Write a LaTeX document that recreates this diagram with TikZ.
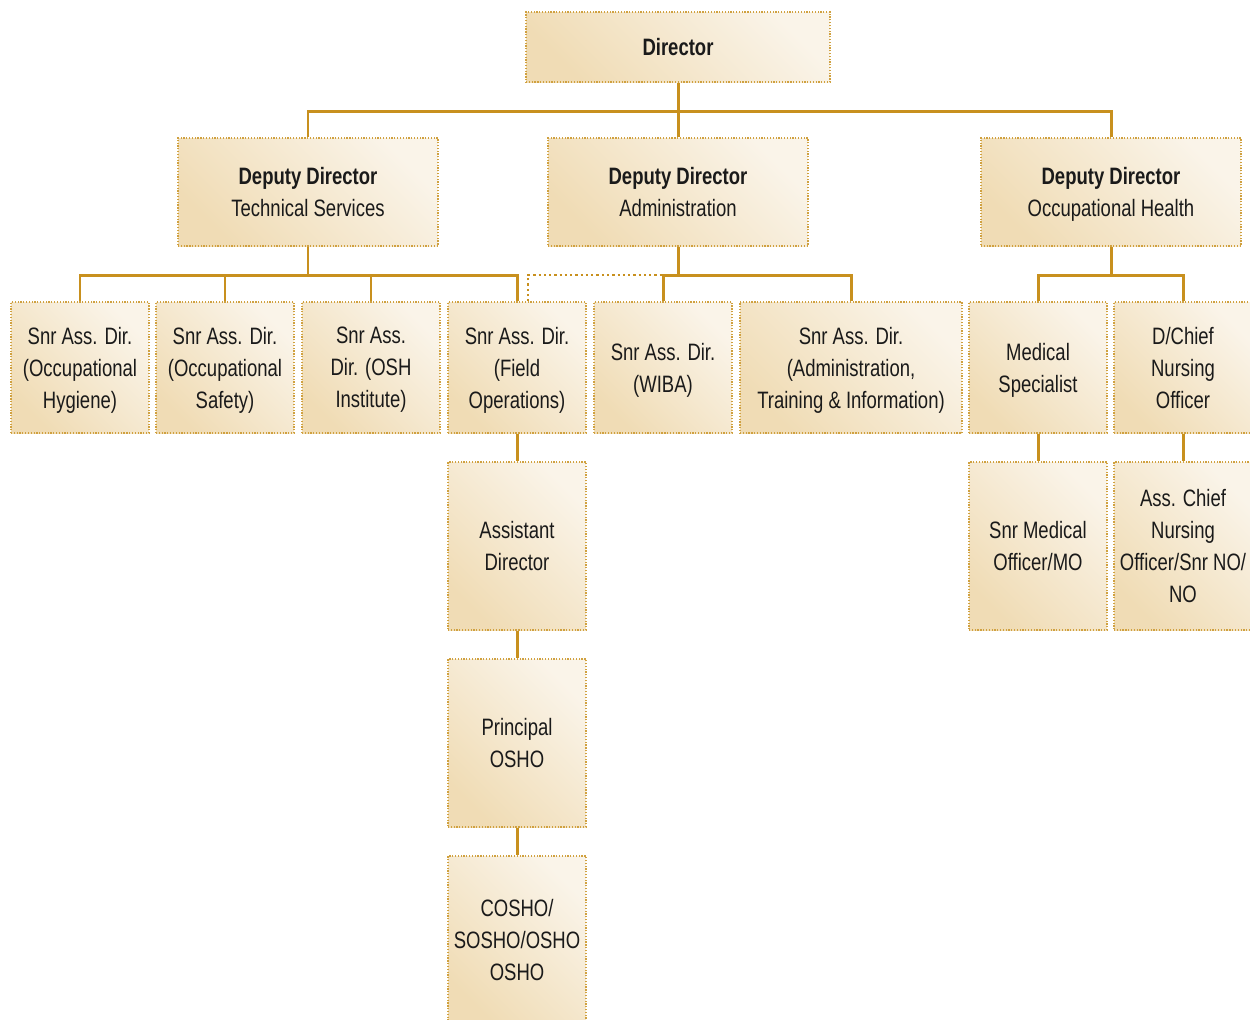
\documentclass[tikz,border=0pt]{standalone}
\usepackage{fontspec}
\setmainfont{Liberation Sans}[FakeStretch=0.78]
\usetikzlibrary{positioning}
\definecolor{gold}{HTML}{C8901E}
\definecolor{tanlight}{HTML}{FAF4E9}
\definecolor{tandark}{HTML}{F0DCB5}
\definecolor{ink}{HTML}{1A1A1A}

\begin{document}
\begin{tikzpicture}[x=0.02cm,y=-0.02cm,
 box/.style={draw=gold!85, line width=0.7pt, dash pattern=on 0.7pt off 0.9pt,
  top color=tanlight, bottom color=tandark, shading angle=-45,
  minimum width=2.76cm, minimum height=2.62cm, inner sep=1pt, align=center,
  text depth=-0.5pt, text=ink, font=\fontsize{13.5}{18.2}\selectfont},
 link/.style={gold, line width=1.7pt},
 dotlink/.style={gold, line width=1.3pt, dash pattern=on 1.3pt off 1.7pt}]
\useasboundingbox (0,0) rectangle (1250,1019);
\clip (0,0) rectangle (1250,1019);

% top levels
\node[box, minimum width=6.08cm, minimum height=1.4cm] (dir) at (678,47) {\textbf{Director}};
\node[box, minimum width=5.2cm, minimum height=2.16cm] (ddtech) at (308,192) {\textbf{Deputy Director}\\Technical Services};
\node[box, minimum width=5.2cm, minimum height=2.16cm] (ddadm) at (678,192) {\textbf{Deputy Director}\\Administration};
\node[box, minimum width=5.2cm, minimum height=2.16cm] (ddoh) at (1111,192) {\textbf{Deputy Director}\\Occupational Health};

% senior assistant directors
\foreach \n/\x/\t in {hyg/80/{Snr Ass. Dir.\\(Occupational\\Hygiene)},
  saf/225/{Snr Ass. Dir.\\(Occupational\\Safety)},
  osh/371/{Snr Ass.\\Dir. (OSH\\Institute)},
  fld/517/{Snr Ass. Dir.\\(Field\\Operations)},
  wiba/663/{Snr Ass. Dir.\\(WIBA)},
  med/1038/{Medical\\Specialist},
  dcn/1183/{D/Chief\\Nursing\\Officer}}
 \node[box] (\n) at (\x,367.5) {\t};
\node[box, minimum width=4.44cm] (ati) at (851,367.5) {Snr Ass. Dir.\\(Administration,\\Training \& Information)};

% lower levels
\node[box, minimum height=3.36cm] (asd) at (517,546) {Assistant\\Director};
\node[box, minimum height=3.36cm] (posho) at (517,743) {Principal\\OSHO};
\node[box, minimum height=3.36cm] (cosho) at (517,940) {COSHO/\\SOSHO/OSHO\\OSHO};
\node[box, minimum height=3.36cm] (smo) at (1038,546) {Snr Medical\\Officer/MO};
\node[box, minimum height=3.36cm] (acn) at (1183,546) {Ass. Chief\\Nursing\\Officer/Snr NO/\\NO};

% connectors
\coordinate (j1) at (678,111);
\coordinate (j2) at (308,275);
\coordinate (j3) at (678,275);
\coordinate (j4) at (1111,275);
\draw[link] (dir.south) -- (ddadm.north) (ddtech.north) |- (j1) -| (ddoh.north);
\draw[link] (ddtech.south) -- (j2) (hyg.north) |- (j2) -| (fld.north)
 (saf.north) -- (saf.north |- j2) (osh.north) -- (osh.north |- j2);
\draw[link] (ddadm.south) -- (j3) (wiba.north) |- (j3) -| (ati.north);
\draw[dotlink] ([xshift=0.22cm]fld.north) |- (wiba.north |- j3);
\draw[link] (ddoh.south) -- (j4) (med.north) |- (j4) -| (dcn.north);
\draw[link] (fld.south) -- (asd.north) (asd.south) -- (posho.north) (posho.south) -- (cosho.north);
\draw[link] (med.south) -- (smo.north) (dcn.south) -- (acn.north);
\end{tikzpicture}
\end{document}
